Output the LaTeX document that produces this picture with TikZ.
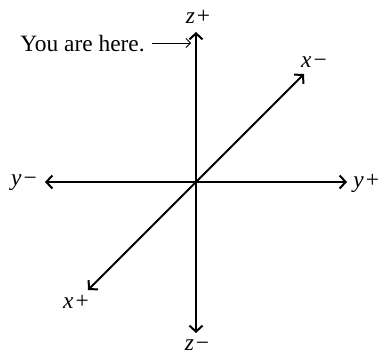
\documentclass[tikz,border=0pt]{standalone}
\usepackage{fontspec}
\setmainfont{Liberation Serif}
\usetikzlibrary{arrows.meta}
\tikzset{
  axis/.style={line width=1pt, {Straight Barb[length=3pt,width=6.5pt]}-{Straight Barb[length=3pt,width=6.5pt]}},
  lbl/.style={inner sep=0pt, font=\fontsize{11.7}{14}\selectfont},
  pointer/.style={line width=0.45pt, -{Straight Barb[length=2.2pt,width=4.5pt]}}
}
\begin{document}
\begin{tikzpicture}[x=0.5pt,y=-0.5pt]
\useasboundingbox (0,0) rectangle (378,353);
\coordinate (O) at (196,182);
\coordinate (zp) at (196,32);
\coordinate (zm) at (196,333);
\coordinate (ym) at (45,182);
\coordinate (yp) at (347,182);
\coordinate (xm) at (304,74);
\coordinate (xp) at (88,290);
\draw[axis] (zm) -- (zp);
\draw[axis] (ym) -- (yp);
\draw[axis] (xp) -- (xm);
\node[lbl] (lzp) at (198,17) {\textit{z}\kern1pt+};
\node[lbl] (lzm) at (197,345) {\textit{z}\kern1pt−};
\node[lbl] (lym) at (24,183) {\textit{y}\kern1pt−};
\node[lbl, anchor=west] (lyp) at (353,183) {\textit{y}\kern1pt+};
\node[lbl] (lxm) at (314,62) {\textit{x}\kern1pt−};
\node[lbl] (lxp) at (76,302) {\textit{x}\kern1pt+};
\node[lbl, anchor=base west] (here) at (20,52) {You are here.};
\coordinate (hereend) at (191,43);
\draw[pointer] (here.east |- hereend) ++(7,0) coordinate (herestart) -- (hereend);
\end{tikzpicture}
\end{document}
